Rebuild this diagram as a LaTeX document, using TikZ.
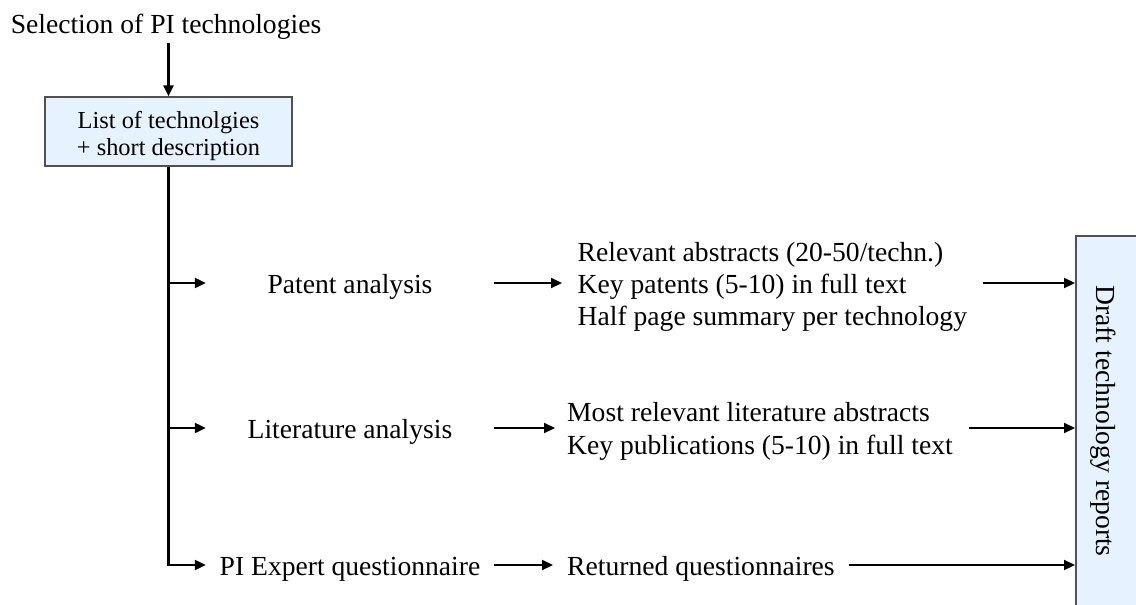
\documentclass[tikz,border=0pt]{standalone}
\usepackage{fontspec}
\setmainfont{Liberation Serif}
\usetikzlibrary{arrows.meta}
\definecolor{boxfill}{RGB}{230,242,255}
\definecolor{boxline}{RGB}{80,80,80}
\begin{document}
\begin{tikzpicture}[x=1pt,y=-1pt,
  every node/.style={inner sep=0pt, font=\fontsize{27.6}{32}\selectfont},
  arr/.style={line width=2.2pt, -{Triangle[length=11pt,width=10pt]}},
  lbox/.style={draw=boxline, line width=1.3pt, fill=boxfill, align=center,
    font=\fontsize{24.4}{27}\selectfont, text height=47pt, text depth=0pt},
  dbox/.style={draw=boxline, line width=1.6pt, fill=boxfill},
  lab/.style={text height=20pt, text depth=0pt},
  outp/.style={align=left, anchor=base west}]
\useasboundingbox (0,0) rectangle (1136,605);

\node (sel) at (166,27) {Selection of PI technologies};
\node[lbox, minimum width=247pt, minimum height=69pt] (list) at (168.5,131.5)
  {List of technolgies\\+ short description};

\node[lab, minimum width=288pt] (pat) at (350,283) {Patent analysis};
\node[lab, minimum width=288pt] (lit) at (350,428) {Literature analysis};
\node[lab, minimum width=288pt] (pi)  at (350,565) {PI Expert questionnaire};

\node[outp, inner xsep=15.5pt] (pout) at (562,325)
  {Relevant abstracts (20-50/techn.)\\Key patents (5-10) in full text\\Half page summary per technology};
\node[outp, inner xsep=12pt, font=\fontsize{27.6}{33}\selectfont] (lout) at (555,454)
  {Most relevant literature abstracts\\Key publications (5-10) in full text};
\node[lab, anchor=west, inner xsep=14pt] (rout) at (553,565) {Returned questionnaires};

\node[dbox, anchor=north west, minimum width=100pt, minimum height=380pt] (draft) at (1075,235) {};
\node[rotate=-90] (dlab) at (1103,421) {Draft technology reports};

\draw[arr, shorten <=3.5pt] (sel.south -| list.north) -- (list.north);
\draw[arr] (list.south) |- (pi.west);
\draw[arr] (list.south |- pat.west) -- (pat.west);
\draw[arr] (list.south |- lit.west) -- (lit.west);

\draw[arr] (pat.east) -- (pat.east -| pout.west);
\draw[arr] (lit.east) -- (lit.east -| lout.west);
\draw[arr] (pi.east) -- (rout.west);

\draw[arr] (pat.east -| pout.east) -- (draft.west |- pat.east);
\draw[arr, shorten <=4pt] (lit.east -| lout.east) -- (draft.west |- lit.east);
\draw[arr] (rout.east) -- (draft.west |- rout.east);
\end{tikzpicture}
\end{document}
